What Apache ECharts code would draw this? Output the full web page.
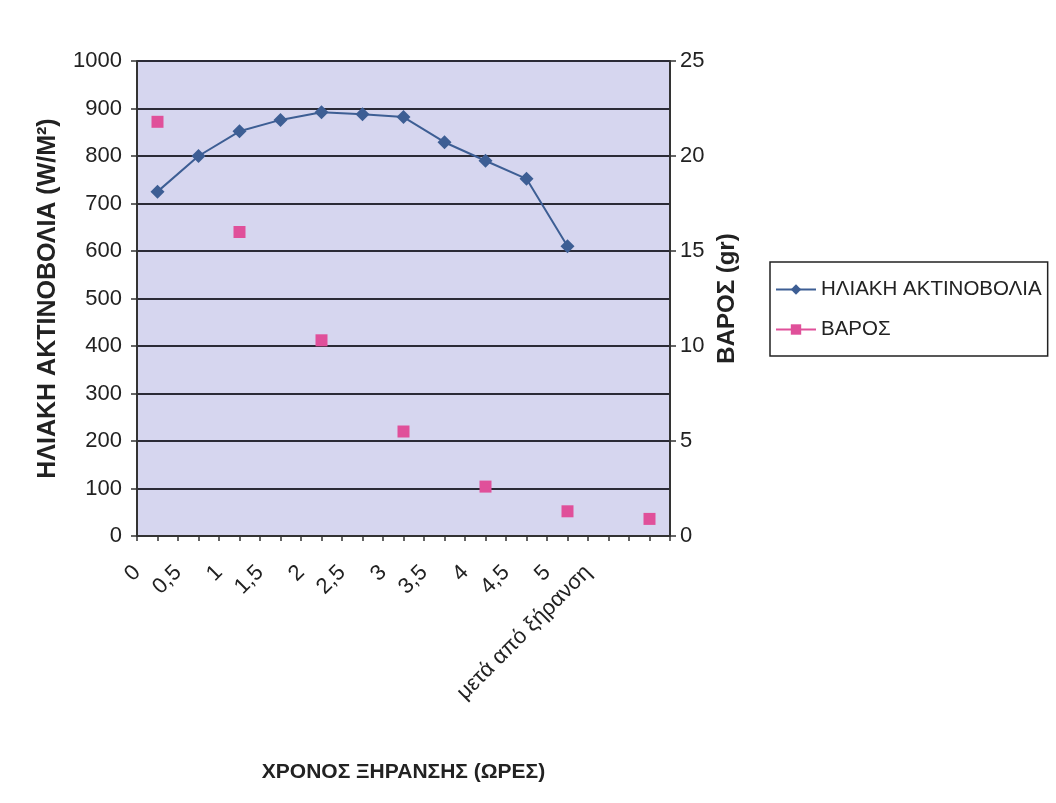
<!DOCTYPE html>
<html>
<head>
<meta charset="utf-8">
<title>Ηλιακή ακτινοβολία και βάρος</title>
<script src="https://cdn.jsdelivr.net/npm/echarts@6/dist/echarts.min.js"></script>
<style>
	html, body { margin: 0; padding: 0; background: #fff; }
	#chart { width: 1056px; height: 803px; }
</style>
</head>
<body>
<div id="chart"></div>
<script>
// x labels sit on every 2nd slot of the axis, irradiance points fall between them,
// weight was measured every hour (every 4th slot)
const timeLabels = ['0', '0,5', '1', '1,5', '2', '2,5', '3', '3,5', '4', '4,5', '5', 'μετά από ξήρανση'];
const irradiance = [725, 800, 852, 876, 892, 888, 882, 829, 790, 752, 610];
const weight = [21.8, 16.0, 10.3, 5.5, 2.6, 1.3, 0.9];
const slotCount = 27;

const font = "'Liberation Sans', Arial, sans-serif";
const blue = '#3d5e94';
const pink = '#e0509a';
const gridColor = '#2b2b36';

const slots = [];
const irradianceData = [];
const weightData = [];
for (let i = 0; i < slotCount; i++) {
	slots.push(i % 2 === 0 && timeLabels[i / 2] ? timeLabels[i / 2] : '');
	irradianceData.push(null);
	weightData.push(null);
}
irradiance.forEach((v, k) => { irradianceData[2 * k + 1] = v; });
weight.forEach((v, k) => { weightData[4 * k + 1] = v; });

const chart = echarts.init(document.getElementById('chart'));
chart.setOption({
	animation: false,
	textStyle: { fontFamily: font },
	grid: {
		left: 137,
		right: 386,
		top: 61,
		bottom: 267,
		show: true,
		backgroundColor: '#d6d6ef',
		borderWidth: 0,
	},
	legend: {
		orient: 'vertical',
		left: 770,
		top: 262,
		padding: [17, 6, 16, 5],
		itemGap: 19,
		itemWidth: 40,
		itemHeight: 13,
		borderColor: '#222',
		borderWidth: 1.5,
		textStyle: { fontFamily: font, fontSize: 20.5, color: '#222' },
		data: [
			{ name: 'ΗΛΙΑΚΗ ΑΚΤΙΝΟΒΟΛΙΑ' },
			{ name: 'ΒΑΡΟΣ', lineStyle: { opacity: 1, width: 2, color: pink } },
		],
	},
	xAxis: {
		type: 'category',
		data: slots,
		boundaryGap: false,
		name: 'ΧΡΟΝΟΣ ΞΗΡΑΝΣΗΣ (ΩΡΕΣ)',
		nameLocation: 'middle',
		nameGap: 226,
		nameTextStyle: { fontFamily: font, fontSize: 21, fontWeight: 'bold', color: '#222' },
		axisLine: { lineStyle: { color: '#333', width: 2 } },
		axisTick: { interval: 0, length: 5, lineStyle: { color: '#333', width: 1.5 } },
		axisLabel: {
			interval: 0,
			rotate: 45,
			margin: 33,
			fontFamily: font,
			fontSize: 22,
			color: '#222',
		},
	},
	yAxis: [
		{
			type: 'value',
			min: 0,
			max: 1000,
			interval: 100,
			name: 'ΗΛΙΑΚΗ ΑΚΤΙΝΟΒΟΛΙΑ (W/M²)',
			nameLocation: 'middle',
			nameRotate: 90,
			nameGap: 76,
			nameTextStyle: { fontFamily: font, fontSize: 25, fontWeight: 'bold', color: '#222' },
			axisLine: { show: true, lineStyle: { color: '#333', width: 2 } },
			axisTick: { show: true, length: 6, lineStyle: { color: '#333', width: 1.5 } },
			axisLabel: { fontFamily: font, fontSize: 22, color: '#222', margin: 15, formatter: (v) => String(v) },
			splitLine: { lineStyle: { color: gridColor, width: 2 } },
		},
		{
			type: 'value',
			min: 0,
			max: 25,
			interval: 5,
			name: 'ΒΑΡΟΣ (gr)',
			nameLocation: 'middle',
			nameRotate: 90,
			nameGap: 45,
			nameTextStyle: { fontFamily: font, fontSize: 24, fontWeight: 'bold', color: '#222' },
			axisLine: { show: true, lineStyle: { color: '#333', width: 2 } },
			axisTick: { show: true, length: 6, lineStyle: { color: '#333', width: 1.5 } },
			axisLabel: { fontFamily: font, fontSize: 22, color: '#222', margin: 10 },
			splitLine: { show: false },
		},
	],
	series: [
		{
			name: 'ΗΛΙΑΚΗ ΑΚΤΙΝΟΒΟΛΙΑ',
			type: 'line',
			yAxisIndex: 0,
			data: irradianceData,
			connectNulls: true,
			symbol: 'diamond',
			symbolSize: 14,
			itemStyle: { color: blue },
			lineStyle: { color: blue, width: 2 },
		},
		{
			name: 'ΒΑΡΟΣ',
			type: 'line',
			yAxisIndex: 1,
			data: weightData,
			symbol: 'rect',
			symbolSize: 12,
			itemStyle: { color: pink },
			lineStyle: { opacity: 0 },
		},
	],
});
</script>
</body>
</html>
